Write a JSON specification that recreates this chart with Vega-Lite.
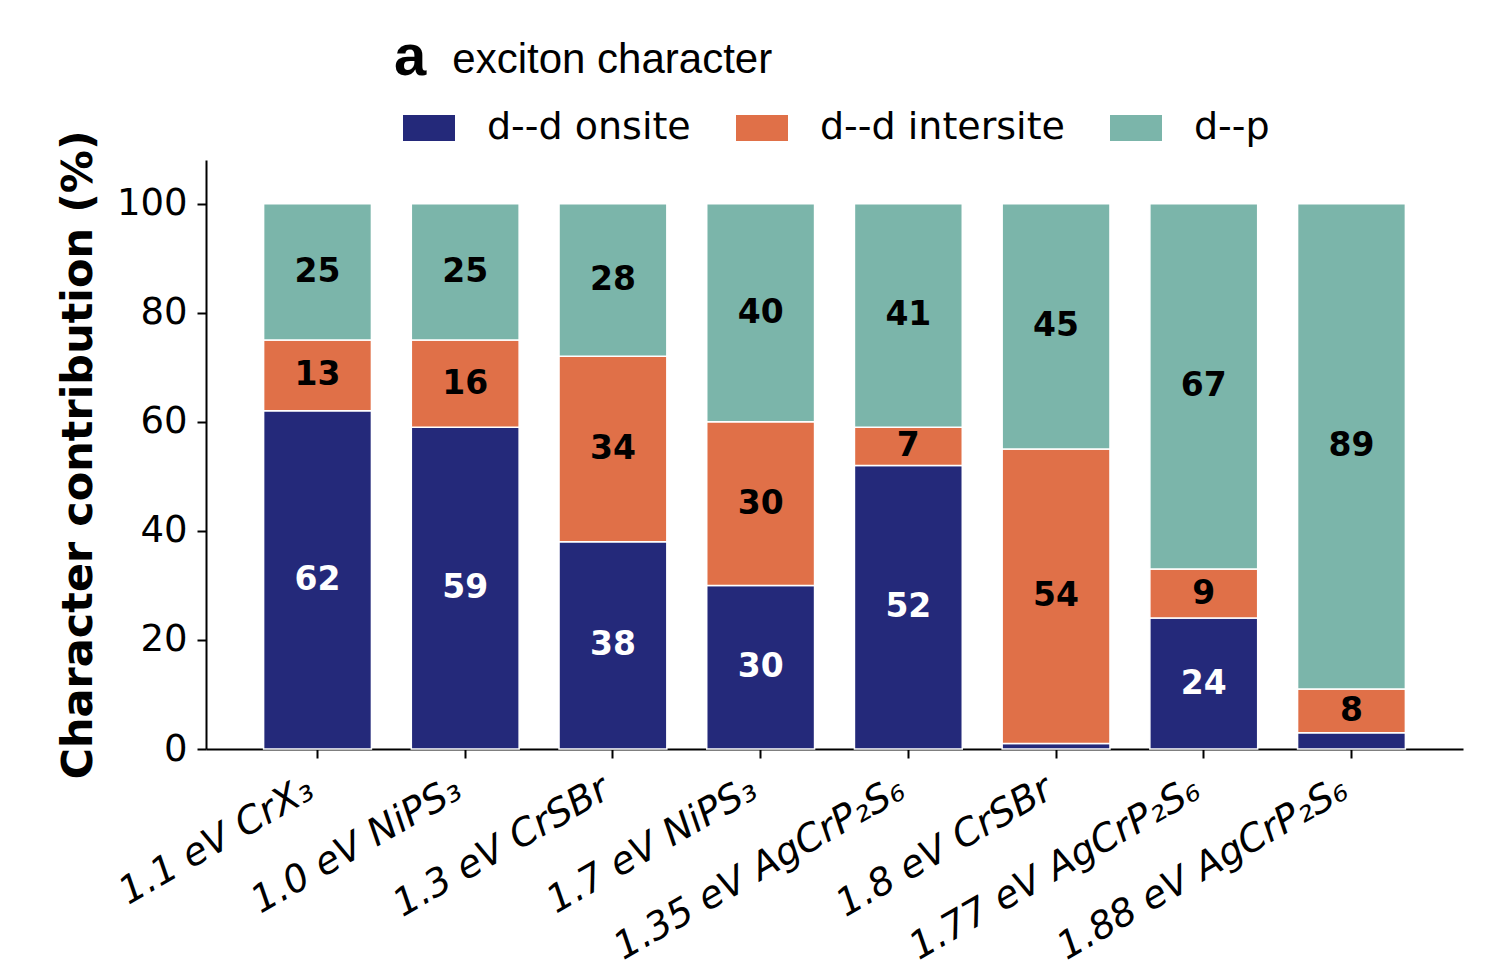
{
  "$schema": "https://vega.github.io/schema/vega-lite/v6.json",
  "width": 1257,
  "height": 589,
  "autosize": "none",
  "padding": {"left": 206, "top": 160, "right": 32, "bottom": 230},
  "background": "white",
  "title": {
    "text": "a",
    "subtitle": "\u200b\u00a0\u00a0\u00a0\u00a0\u00a0exciton character",
    "anchor": "start",
    "frame": "group",
    "dx": 188,
    "dy": -5,
    "font": "Liberation Sans",
    "fontSize": 58,
    "fontWeight": "bold",
    "color": "black",
    "subtitleFont": "Liberation Sans",
    "subtitleFontSize": 42,
    "subtitleColor": "black",
    "subtitlePadding": -47,
    "offset": 10
  },
  "config": {
    "view": {"stroke": null},
    "axis": {
      "domainColor": "black",
      "domainWidth": 2,
      "tickColor": "black",
      "tickWidth": 2,
      "tickSize": 9,
      "labelFont": "DejaVu Sans",
      "labelFontSize": 37,
      "labelColor": "black",
      "labelLimit": 0,
      "grid": false
    }
  },
  "data": {
    "values": [
      {"exciton": "1.1 eV CrX₃", "character": "d--d onsite", "k": 1, "pct": 62},
      {"exciton": "1.1 eV CrX₃", "character": "d--d intersite", "k": 2, "pct": 13},
      {"exciton": "1.1 eV CrX₃", "character": "d--p", "k": 3, "pct": 25},
      {"exciton": "1.0 eV NiPS₃", "character": "d--d onsite", "k": 1, "pct": 59},
      {"exciton": "1.0 eV NiPS₃", "character": "d--d intersite", "k": 2, "pct": 16},
      {"exciton": "1.0 eV NiPS₃", "character": "d--p", "k": 3, "pct": 25},
      {"exciton": "1.3 eV CrSBr", "character": "d--d onsite", "k": 1, "pct": 38},
      {"exciton": "1.3 eV CrSBr", "character": "d--d intersite", "k": 2, "pct": 34},
      {"exciton": "1.3 eV CrSBr", "character": "d--p", "k": 3, "pct": 28},
      {"exciton": "1.7 eV NiPS₃", "character": "d--d onsite", "k": 1, "pct": 30},
      {"exciton": "1.7 eV NiPS₃", "character": "d--d intersite", "k": 2, "pct": 30},
      {"exciton": "1.7 eV NiPS₃", "character": "d--p", "k": 3, "pct": 40},
      {"exciton": "1.35 eV AgCrP₂S₆", "character": "d--d onsite", "k": 1, "pct": 52},
      {"exciton": "1.35 eV AgCrP₂S₆", "character": "d--d intersite", "k": 2, "pct": 7},
      {"exciton": "1.35 eV AgCrP₂S₆", "character": "d--p", "k": 3, "pct": 41},
      {"exciton": "1.8 eV CrSBr", "character": "d--d onsite", "k": 1, "pct": 1},
      {"exciton": "1.8 eV CrSBr", "character": "d--d intersite", "k": 2, "pct": 54},
      {"exciton": "1.8 eV CrSBr", "character": "d--p", "k": 3, "pct": 45},
      {"exciton": "1.77 eV AgCrP₂S₆", "character": "d--d onsite", "k": 1, "pct": 24},
      {"exciton": "1.77 eV AgCrP₂S₆", "character": "d--d intersite", "k": 2, "pct": 9},
      {"exciton": "1.77 eV AgCrP₂S₆", "character": "d--p", "k": 3, "pct": 67},
      {"exciton": "1.88 eV AgCrP₂S₆", "character": "d--d onsite", "k": 1, "pct": 3},
      {"exciton": "1.88 eV AgCrP₂S₆", "character": "d--d intersite", "k": 2, "pct": 8},
      {"exciton": "1.88 eV AgCrP₂S₆", "character": "d--p", "k": 3, "pct": 89}
    ]
  },
  "encoding": {
    "x": {
      "field": "exciton",
      "type": "nominal",
      "sort": ["1.1 eV CrX₃", "1.0 eV NiPS₃", "1.3 eV CrSBr", "1.7 eV NiPS₃", "1.35 eV AgCrP₂S₆", "1.8 eV CrSBr", "1.77 eV AgCrP₂S₆", "1.88 eV AgCrP₂S₆"],
      "scale": {"paddingInner": 0.27, "paddingOuter": 0.39},
      "axis": {
        "title": null,
        "labelAngle": -30,
        "labelAlign": "right",
        "labelBaseline": "top",
        "labelFontStyle": "italic",
        "labelFontSize": 38,
        "labelOffset": -16,
        "labelPadding": 12
      }
    },
    "y": {
      "field": "pct",
      "type": "quantitative",
      "stack": "zero",
      "scale": {"domain": [0, 108], "nice": false},
      "axis": {
        "title": "Character contribution (%)",
        "titleFont": "DejaVu Sans",
        "titleFontSize": 43,
        "titleFontWeight": "bold",
        "titleColor": "black",
        "titlePadding": 16,
        "values": [0, 20, 40, 60, 80, 100],
        "labelPadding": 10
      }
    },
    "order": {"field": "k", "type": "quantitative"}
  },
  "layer": [
    {
      "mark": {"type": "bar", "stroke": "white", "strokeWidth": 1.5},
      "encoding": {
        "color": {
          "field": "character",
          "type": "nominal",
          "scale": {
            "domain": ["d--d onsite", "d--d intersite", "d--p"],
            "range": ["#24297a", "#e07048", "#7bb5aa"]
          },
          "legend": {
            "title": null,
            "orient": "none",
            "legendX": 197,
            "legendY": -58,
            "direction": "horizontal",
            "symbolType": "M-1,-0.5H1V0.5H-1Z",
            "symbolSize": 2704,
            "symbolStrokeWidth": 0,
            "labelFont": "DejaVu Sans",
            "labelFontSize": 38,
            "labelColor": "black",
            "labelOffset": 32,
            "labelLimit": 0,
            "columnPadding": 45
          }
        }
      }
    },
    {
      "mark": {"type": "text", "font": "DejaVu Sans", "fontSize": 33, "fontWeight": "bold", "baseline": "middle"},
      "encoding": {
        "y": {"field": "pct", "type": "quantitative", "stack": "zero", "bandPosition": 0.5},
        "detail": {"field": "character", "type": "nominal"},
        "text": {
          "condition": {"test": "datum.pct < 5", "value": ""},
          "field": "pct",
          "type": "quantitative"
        },
        "color": {
          "condition": {"test": "datum.character === 'd--d onsite'", "value": "white"},
          "value": "black"
        }
      }
    }
  ]
}
